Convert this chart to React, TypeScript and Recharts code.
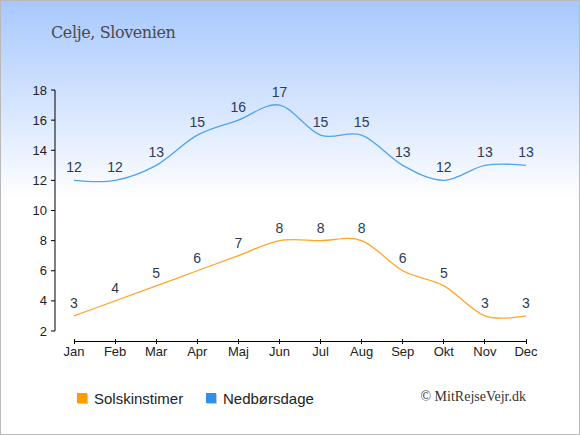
import { LineChart, Line, XAxis, YAxis, LabelList, ReferenceLine } from 'recharts';

const months = ['Jan', 'Feb', 'Mar', 'Apr', 'Maj', 'Jun', 'Jul', 'Aug', 'Sep', 'Okt', 'Nov', 'Dec'];
const sunHours = [3, 4, 5, 6, 7, 8, 8, 8, 6, 5, 3, 3];
const rainDays = [12, 12, 13, 15, 16, 17, 15, 15, 13, 12, 13, 13];
const yTicks = [2, 4, 6, 8, 10, 12, 14, 16, 18];

const data = months.map((month, i) => ({
  month,
  sol: sunHours[i],
  regn: rainDays[i],
}));

// catmull-rom style curve (like d3 curveCardinal with tension 0)
const cardinal = (context: any) => {
  const k = 1 / 6;
  let x0 = NaN, y0 = NaN, x1 = NaN, y1 = NaN, x2 = NaN, y2 = NaN;
  let n = 0;
  let line = NaN;
  const seg = (x: number, y: number) =>
    context.bezierCurveTo(
      x1 + k * (x2 - x0),
      y1 + k * (y2 - y0),
      x2 + k * (x1 - x),
      y2 + k * (y1 - y),
      x2,
      y2
    );
  return {
    areaStart() { line = 0; },
    areaEnd() { line = NaN; },
    lineStart() {
      x0 = x1 = x2 = y0 = y1 = y2 = NaN;
      n = 0;
    },
    lineEnd() {
      if (n === 2) context.lineTo(x2, y2);
      else if (n === 3) seg(x1, y1);
      if (line || (line !== 0 && n === 1)) context.closePath();
      line = 1 - line;
    },
    point(xv: number, yv: number) {
      const x = +xv;
      const y = +yv;
      if (n === 0) {
        n = 1;
        if (line) context.lineTo(x, y);
        else context.moveTo(x, y);
      } else if (n === 1) {
        n = 2;
        x1 = x;
        y1 = y;
      } else {
        n = 3;
        seg(x, y);
      }
      x0 = x1; x1 = x2; x2 = x;
      y0 = y1; y1 = y2; y2 = y;
    },
  };
};

const labelColor = '#2c3b58';
const sans = 'Liberation Sans, Arial, sans-serif';

const MonthTick = ({ x, y, payload }: any) => (
  <g>
    <line x1={x} x2={x} y1={y + 8} y2={y + 13} stroke="#000" shapeRendering="crispEdges" />
    <text x={x} y={y + 25} textAnchor="middle" fontSize={13} fontFamily={sans} fill="#222">
      {payload.value}
    </text>
  </g>
);

const LegendItem = ({ color, label, left }: { color: string; label: string; left: number }) => (
  <div style={{ position: 'absolute', left, top: 388, display: 'flex', alignItems: 'center', height: 20 }}>
    <div style={{ width: 10, height: 10, background: color, boxShadow: '1px 1px 0 #c8c8c8', marginRight: 7 }} />
    <span style={{ fontFamily: sans, fontSize: 15, color: '#222' }}>{label}</span>
  </div>
);

export default function App() {
  return (
    <div
      style={{
        position: 'absolute',
        left: 0,
        top: 0,
        width: 580,
        height: 435,
        background: 'linear-gradient(to bottom, #a7c8fd 0%, #ffffff 46%, #ffffff 100%)',
        boxShadow: 'inset 0 0 0 1px #b9b9b9',
        overflow: 'hidden',
      }}
    >
      <div
        style={{
          position: 'absolute',
          left: 51,
          top: 23,
          fontFamily: 'DejaVu Serif, serif',
          fontSize: 16,
          letterSpacing: -0.4,
          color: '#4a4a4a',
        }}
      >
        Celje, Slovenien
      </div>

      <LineChart
        width={580}
        height={435}
        data={data}
        margin={{ top: 90, right: 54, bottom: 74, left: 0 }}
        style={{ position: 'absolute', left: 0, top: 0 }}
      >
        <XAxis
          dataKey="month"
          axisLine={false}
          tickLine={false}
          tickSize={0}
          tickMargin={0}
          height={30}
          padding={{ left: 19, right: 0 }}
          tick={<MonthTick />}
          interval={0}
        />
        <YAxis
          domain={[2, 18]}
          ticks={yTicks}
          width={55}
          tickSize={4}
          tickMargin={4}
          axisLine={{ stroke: '#000' }}
          tickLine={{ stroke: '#000' }}
          tick={{ fontSize: 13, fontFamily: sans, fill: '#222' }}
          interval={0}
        />
        <ReferenceLine
          segment={[{ x: 'Jan', y: 2 }, { x: 'Dec', y: 2 }]}
          shape={(p: any) => (
            <line x1={p.x1} y1={p.y1 + 10.5} x2={p.x2} y2={p.y2 + 10.5} stroke="#000" shapeRendering="crispEdges" />
          )}
        />
        <Line
          dataKey="regn"
          type={cardinal as any}
          stroke="#4ea4ee"
          strokeWidth={1.3}
          dot={false}
          isAnimationActive={false}
        >
          <LabelList dataKey="regn" position="top" offset={8} fill={labelColor} fontSize={14} fontFamily={sans} />
        </Line>
        <Line
          dataKey="sol"
          type={cardinal as any}
          stroke="#ffa52b"
          strokeWidth={1.3}
          dot={false}
          isAnimationActive={false}
        >
          <LabelList dataKey="sol" position="top" offset={8} fill={labelColor} fontSize={14} fontFamily={sans} />
        </Line>
      </LineChart>

      <LegendItem color="#ff9c00" label="Solskinstimer" left={77} />
      <LegendItem color="#2e90e8" label="Nedbørsdage" left={206} />

      <div
        style={{
          position: 'absolute',
          right: 54,
          top: 389,
          fontFamily: 'Liberation Serif, Times New Roman, serif',
          fontSize: 14,
          color: '#333',
        }}
      >
        © MitRejseVejr.dk
      </div>
    </div>
  );
}
